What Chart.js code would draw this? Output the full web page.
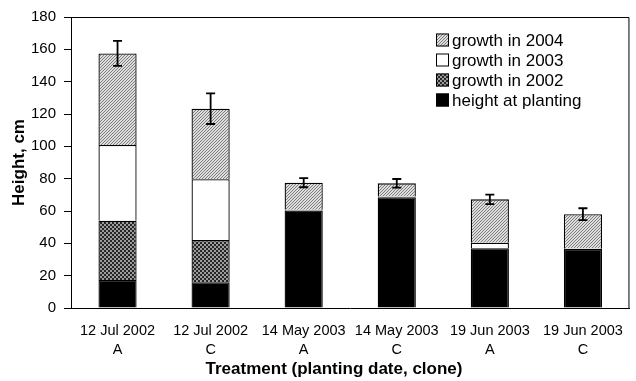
<!DOCTYPE html>
<html>
<head>
<meta charset="utf-8">
<script src="https://cdn.jsdelivr.net/npm/chart.js@4.4.1/dist/chart.umd.min.js"></script>
<style>
  html, body { margin: 0; padding: 0; background: #fff; }
  canvas { display: block; }
</style>
</head>
<body>
<canvas id="chart" width="636" height="381"></canvas>
<script>
// Treatments (planting date, clone)
const categories = [
  ['12 Jul 2002', 'A'], ['12 Jul 2002', 'C'],
  ['14 May 2003', 'A'], ['14 May 2003', 'C'],
  ['19 Jun 2003', 'A'], ['19 Jun 2003', 'C']
];
// Stacked height components, cm
const heightAtPlanting = [17.3, 15.9, 60.3, 68.5, 37.0, 36.5];
const growth2002       = [36.7, 26.1, 0, 0, 0, 0];
const growth2003       = [46.8, 37.6, 0.4, 0.5, 3.4, 0.5];
const growth2004       = [56.7, 43.7, 16.8, 8.1, 26.8, 21.0];
// Error (± cm) on total height
const totalError       = [7.7, 9.5, 2.8, 2.7, 2.9, 3.7];
// Axis range
const yMin = 0, yMax = 180, yStep = 20;

const FONT = '"Liberation Sans", Arial, Helvetica, sans-serif';
const canvas = document.getElementById('chart');
const ctx = canvas.getContext('2d');

// Fill patterns
function tilePattern(size, paint) {
  const t = document.createElement('canvas');
  t.width = t.height = size;
  paint(t.getContext('2d'));
  return ctx.createPattern(t, 'repeat');
}
const diagonalGray = tilePattern(3, g => {
  g.fillStyle = '#dedede'; g.fillRect(0, 0, 3, 3);
  g.fillStyle = '#7c7c7c';
  g.fillRect(2, 0, 1, 1); g.fillRect(1, 1, 1, 1); g.fillRect(0, 2, 1, 1);
});
const checkerDark = tilePattern(4, g => {
  g.fillStyle = '#262626'; g.fillRect(0, 0, 4, 4);
  g.fillStyle = '#9c9c9c';
  g.fillRect(0, 0, 2, 2); g.fillRect(2, 2, 2, 2);
});

// Legend drawn inside the plot frame, top-right
const insideLegend = {
  id: 'insideLegend',
  afterDatasetsDraw(chart) {
    const c = chart.ctx, a = chart.chartArea;
    const items = chart.data.datasets.slice().reverse();
    c.save();
    c.font = '17px ' + FONT;
    c.textBaseline = 'middle';
    c.textAlign = 'left';
    items.forEach((ds, i) => {
      const y = a.top + 23 + i * 20;
      const x = a.left + 365;
      c.fillStyle = ds.backgroundColor;
      c.fillRect(x, y - 6.5, 13, 13);
      c.strokeStyle = '#000';
      c.lineWidth = 1;
      c.strokeRect(x + 0.5, y - 6, 12, 12);
      c.fillStyle = '#000';
      c.fillText(ds.label, x + 16, y + 1);
    });
    c.restore();
  }
};

// Error bars on top of each stacked column
const errorBars = {
  id: 'errorBars',
  afterDatasetsDraw(chart) {
    const c = chart.ctx, ys = chart.scales.y;
    const topMeta = chart.getDatasetMeta(chart.data.datasets.length - 1);
    c.save();
    c.strokeStyle = '#000';
    c.lineWidth = 1.8;
    totalError.forEach((err, i) => {
      const total = chart.data.datasets.reduce((s, ds) => s + ds.data[i], 0);
      const x = topMeta.data[i].x;
      const yHi = ys.getPixelForValue(total + err);
      const yLo = ys.getPixelForValue(total - err);
      const cap = 4.5;
      c.beginPath();
      c.moveTo(x, yHi); c.lineTo(x, yLo);
      c.moveTo(x - cap, yHi); c.lineTo(x + cap, yHi);
      c.moveTo(x - cap, yLo); c.lineTo(x + cap, yLo);
      c.stroke();
    });
    c.restore();
  }
};

// Top and right edges of the plot frame, plus the x-axis title
const frameAndTitle = {
  id: 'frameAndTitle',
  afterDraw(chart) {
    const c = chart.ctx, a = chart.chartArea;
    c.save();
    c.strokeStyle = '#000';
    c.lineWidth = 1;
    c.beginPath();
    c.moveTo(a.left, a.top + 0.5);
    c.lineTo(a.right - 0.5, a.top + 0.5);
    c.lineTo(a.right - 0.5, a.bottom);
    c.stroke();
    c.font = 'bold 17px ' + FONT;
    c.fillStyle = '#000';
    c.textAlign = 'center';
    c.textBaseline = 'middle';
    c.fillText('Treatment (planting date, clone)', a.left + 263, 369.5);
    c.restore();
  }
};

new Chart(ctx, {
  type: 'bar',
  data: {
    labels: categories,
    datasets: [
      { label: 'height at planting', data: heightAtPlanting, backgroundColor: '#000000' },
      { label: 'growth in 2002', data: growth2002, backgroundColor: checkerDark },
      { label: 'growth in 2003', data: growth2003, backgroundColor: '#ffffff' },
      { label: 'growth in 2004', data: growth2004, backgroundColor: diagonalGray }
    ].map(ds => Object.assign(ds, {
      borderColor: '#000',
      borderWidth: 1.3,
      barPercentage: 0.41,
      categoryPercentage: 1.0
    }))
  },
  options: {
    responsive: false,
    animation: false,
    devicePixelRatio: 1,
    layout: { padding: { left: 5, right: 2, top: 17, bottom: 0 } },
    plugins: {
      legend: { display: false },
      tooltip: { enabled: false }
    },
    scales: {
      x: {
        stacked: true,
        grid: { display: false, drawTicks: false },
        border: { display: true, color: '#000', width: 1 },
        ticks: {
          color: '#000',
          padding: 13,
          font: { family: FONT, size: 14.5, lineHeight: 1.33 },
          maxRotation: 0
        },
        afterFit(scale) { scale.height = 73; }
      },
      y: {
        stacked: true,
        min: yMin,
        max: yMax,
        grid: { drawOnChartArea: false, drawTicks: true, tickLength: 7, color: '#000', tickColor: '#000' },
        border: { display: true, color: '#000', width: 1 },
        ticks: {
          stepSize: yStep,
          color: '#000',
          padding: 8,
          font: { family: FONT, size: 15 }
        },
        title: {
          display: true,
          text: 'Height, cm',
          color: '#000',
          padding: { top: 4, bottom: 0 },
          font: { family: FONT, size: 17, weight: 'bold' }
        },
        afterFit(scale) { scale.width = 66; }
      }
    }
  },
  plugins: [insideLegend, errorBars, frameAndTitle]
});
</script>
</body>
</html>
